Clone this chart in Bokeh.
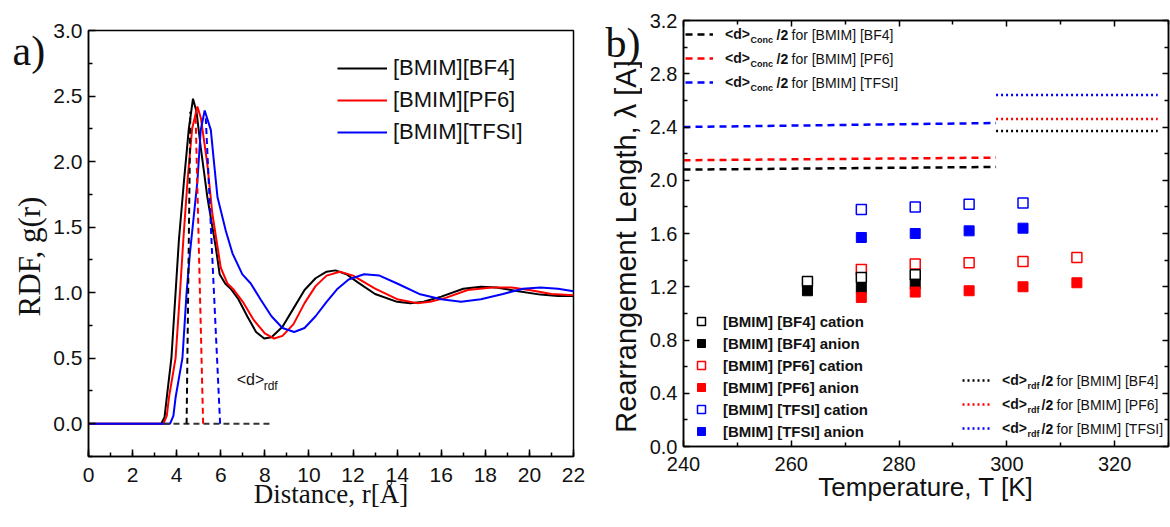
import math
from bokeh.plotting import figure
from bokeh.models import (FixedTicker, NumeralTickFormatter, Legend, LegendItem, Label,
                          LinearAxis, Range1d)
from bokeh.layouts import row
from bokeh.embed import file_html
from bokeh.resources import INLINE

# ---------------- data: panel a (RDF) ----------------
r_bf4 = [0, 3.3, 3.45, 3.55, 3.76, 3.95, 4.1, 4.33, 4.55, 4.74, 4.9, 5.09, 5.39, 5.77, 5.95, 6.2, 6.45,
         6.8, 7.2, 7.6, 7.97, 8.3, 8.8, 9.3, 9.8, 10.3, 10.8, 11.2, 11.7, 12.2, 13.0, 14.0, 14.6, 15.2,
         16.0, 17.0, 17.8, 18.5, 19.5, 20.5, 21.3, 22]
g_bf4 = [0, 0, 0.05, 0.2, 0.5, 1.0, 1.4, 1.85, 2.25, 2.48, 2.38, 2.11, 1.73, 1.35, 1.14, 1.07, 1.03,
         0.95, 0.82, 0.7, 0.65, 0.66, 0.74, 0.88, 1.02, 1.11, 1.16, 1.17, 1.14, 1.08, 0.99, 0.93, 0.92, 0.93,
         0.97, 1.03, 1.045, 1.04, 1.01, 0.985, 0.975, 0.975]
r_pf6 = [0, 3.4, 3.55, 3.65, 3.95, 4.15, 4.3, 4.49, 4.7, 4.94, 5.1, 5.39, 5.62, 6.0, 6.3, 6.6, 7.0, 7.5,
         8.0, 8.42, 8.8, 9.3, 9.8, 10.3, 10.8, 11.4, 12.0, 13.0, 14.0, 14.9, 15.5, 16.2, 17.2, 18.3, 19.2,
         20.0, 21.0, 22]
g_pf6 = [0, 0, 0.06, 0.2, 0.5, 1.0, 1.4, 1.85, 2.25, 2.42, 2.33, 1.98, 1.6, 1.19, 1.07, 1.02, 0.93, 0.79,
         0.69, 0.65, 0.67, 0.76, 0.92, 1.05, 1.13, 1.16, 1.13, 1.03, 0.95, 0.92, 0.93, 0.96, 1.02, 1.04, 1.04,
         1.02, 0.99, 0.98]
r_tfsi = [0, 3.7, 3.85, 3.95, 4.26, 4.45, 4.6, 4.94, 5.09, 5.27, 5.55, 5.7, 5.85, 6.23, 6.53, 6.98, 7.36,
          7.8, 8.3, 8.8, 9.33, 9.8, 10.3, 10.8, 11.3, 11.8, 12.5, 13.2, 14.0, 15.0, 16.0, 16.9, 17.8, 18.8,
          19.7, 20.5, 21.3, 22]
g_tfsi = [0, 0, 0.06, 0.2, 0.5, 1.0, 1.3, 1.85, 2.24, 2.39, 2.24, 1.98, 1.73, 1.47, 1.30, 1.14, 1.07,
          0.95, 0.82, 0.73, 0.70, 0.73, 0.82, 0.93, 1.03, 1.1, 1.14, 1.13, 1.07, 0.99, 0.95, 0.93, 0.95, 0.99,
          1.03, 1.04, 1.03, 1.01]
rdf_names = ["[BMIM][BF4]", "[BMIM][PF6]", "[BMIM][TFSI]"]
# <d>_rdf marker segments (base on r axis, top near the peak)
d_rdf_base = [4.45, 5.2, 5.97]
d_rdf_top_x = [4.62, 4.86, 5.32]
d_rdf_top_y = [2.38, 2.34, 2.33]
baseline_x = [3.4, 8.3]
baseline_y = [0.0, 0.0]
d_rdf_label_pos = (6.72, 0.34)

# ---------------- data: panel b (rearrangement length) ----------------
T_bf4 = [263, 273, 283]
bf4_cat = [1.24, 1.27, 1.29]
bf4_an = [1.17, 1.19, 1.22]
T_pf6 = [273, 283, 293, 303, 313]
pf6_cat = [1.33, 1.37, 1.38, 1.39, 1.42]
pf6_an = [1.12, 1.16, 1.17, 1.20, 1.23]
T_tfsi = [273, 283, 293, 303]
tfsi_cat = [1.78, 1.80, 1.82, 1.83]
tfsi_an = [1.57, 1.60, 1.62, 1.64]
T_conc = [240, 298]
conc_bf4 = [2.08, 2.10]
conc_pf6 = [2.15, 2.17]
conc_tfsi = [2.40, 2.43]
T_rdf = [298, 328]
rdfh_bf4 = [2.37, 2.37]
rdfh_pf6 = [2.46, 2.46]
rdfh_tfsi = [2.64, 2.64]
ions = ["[BMIM] [BF4]", "[BMIM] [PF6]", "[BMIM] [TFSI]"]

BLACK, RED, BLUE = "#000000", "#ff0000", "#0000ff"
SANS, SERIF = "Liberation Sans", "Liberation Serif"
TXT = "#111111"
H = 527
TOP, BOTTOM = 30, 71   # shared (aligned) borders of all pieces in the row


def style_axis(ax, size, tick_in=7, minor_in=4, standoff=8):
    ax.axis_line_width = 1.5
    ax.axis_line_color = "black"
    ax.major_tick_in = tick_in
    ax.major_tick_out = 0
    ax.minor_tick_in = minor_in
    ax.minor_tick_out = 0
    ax.major_tick_line_width = 1.5
    ax.minor_tick_line_width = 1.5
    ax.major_label_text_font = SANS
    ax.major_label_text_font_size = size
    ax.major_label_text_color = TXT
    ax.major_label_standoff = standoff
    ax.axis_label_text_font_style = "normal"
    ax.axis_label_text_color = TXT


def strip(width, shift):
    s = figure(width=width, height=H, x_range=Range1d(0, 1), y_range=Range1d(0, 1),
               output_backend="svg", toolbar_location=None, x_axis_type=None, y_axis_type=None,
               min_border_left=0, min_border_right=0, min_border_top=TOP, min_border_bottom=BOTTOM,
               margin=(shift, 0, 0, 0))
    s.grid.visible = False
    s.outline_line_color = None
    return s


# =================== strip with "a)" and the RDF axis title ===================
ta = strip(48, -20)          # frame spans page y 10..436
ta.add_layout(Label(x=12, y=386, x_units="screen", y_units="screen", text="a)", text_font=SERIF,
                    text_font_size="42px", text_baseline="alphabetic", text_color=TXT))
ta.add_layout(Label(x=29, y=180, x_units="screen", y_units="screen", text="RDF, g(r)", text_font=SERIF,
                    text_font_size="31px", text_align="center", text_baseline="middle",
                    angle=math.pi / 2, text_color=TXT))

# =================== panel a ===================
pa = figure(width=542, height=H, x_range=Range1d(0, 22), y_range=Range1d(-0.25, 3.0),
            output_backend="svg", toolbar_location=None,
            min_border_left=40, min_border_right=17, min_border_top=TOP, min_border_bottom=BOTTOM)
pa.grid.visible = False
pa.outline_line_color = "black"
pa.outline_line_width = 1.5

pa.xaxis.ticker = FixedTicker(ticks=list(range(0, 23, 2)), minor_ticks=list(range(0, 23)))
pa.yaxis.ticker = FixedTicker(ticks=[0.0, 0.5, 1.0, 1.5, 2.0, 2.5, 3.0],
                              minor_ticks=[-0.25, 0.25, 0.75, 1.25, 1.75, 2.25, 2.75])
pa.yaxis.formatter = NumeralTickFormatter(format="0.0")
style_axis(pa.xaxis[0], "21px", standoff=11)
style_axis(pa.yaxis[0], "21px", standoff=6)
pa.xaxis.axis_label = "Distance, r[Å]"
pa.xaxis.axis_label_text_font = SERIF
pa.xaxis.axis_label_text_font_size = "27px"
pa.xaxis.axis_label_standoff = -6

ra = pa.line(r_bf4, g_bf4, line_color=BLACK, line_width=2)
rb = pa.line(r_pf6, g_pf6, line_color=RED, line_width=2)
rc = pa.line(r_tfsi, g_tfsi, line_color=BLUE, line_width=2)
pa.line(baseline_x, baseline_y, line_color="#333333", line_width=2, line_dash="6 4")
pa.segment(x0=d_rdf_base, y0=[0, 0, 0], x1=d_rdf_top_x, y1=d_rdf_top_y,
           line_color=[BLACK, RED, BLUE], line_width=2, line_dash="6 4")

leg_a = Legend(items=[LegendItem(label=n, renderers=[r]) for n, r in zip(rdf_names, [ra, rb, rc])],
               location=(249, 308), padding=0, margin=0, spacing=0,
               glyph_width=50, glyph_height=32, label_height=32, label_standoff=6,
               label_text_font=SANS, label_text_font_size="22px", label_text_color=TXT,
               border_line_alpha=0, background_fill_alpha=0)
pa.add_layout(leg_a, "center")

pa.add_layout(Label(x=d_rdf_label_pos[0], y=d_rdf_label_pos[1], text="<d>", text_font=SANS,
                    text_font_size="16px", text_baseline="middle", text_color=TXT))
pa.add_layout(Label(x=d_rdf_label_pos[0], y=d_rdf_label_pos[1], x_offset=27, y_offset=-7, text="rdf",
                    text_font=SANS, text_font_size="12px", text_baseline="middle", text_color=TXT))

# =================== strip with "b)" and the lambda axis title ===================
tb = strip(52, -19)          # frame spans page y 11..437
tb.add_layout(Label(x=15, y=395, x_units="screen", y_units="screen", text="b)", text_font=SERIF,
                    text_font_size="42px", text_baseline="alphabetic", text_color=TXT))
tb.add_layout(Label(x=35, y=191, x_units="screen", y_units="screen", text="Rearrangement Length, λ [A]",
                    text_font=SANS, text_font_size="29px", text_align="center",
                    text_baseline="middle", angle=math.pi / 2, text_color=TXT))

# =================== panel b ===================
pb = figure(width=528, height=H, x_range=Range1d(240, 330), y_range=Range1d(0, 3.2),
            output_backend="svg", toolbar_location=None,
            min_border_left=41, min_border_right=2, min_border_top=TOP, min_border_bottom=BOTTOM,
            margin=(-10, 0, 0, 0))   # frame spans page y 20..446
pb.grid.visible = False
pb.outline_line_color = "black"
pb.outline_line_width = 1.5

xt = dict(ticks=[240, 260, 280, 300, 320], minor_ticks=[250, 270, 290, 310, 330])
yt = dict(ticks=[0.0, 0.4, 0.8, 1.2, 1.6, 2.0, 2.4, 2.8, 3.2],
          minor_ticks=[0.2, 0.6, 1.0, 1.4, 1.8, 2.2, 2.6, 3.0])
pb.xaxis.ticker = FixedTicker(**xt)
pb.yaxis.ticker = FixedTicker(**yt)
pb.yaxis.formatter = NumeralTickFormatter(format="0.0")
style_axis(pb.xaxis[0], "20px", tick_in=6, minor_in=4, standoff=10)
style_axis(pb.yaxis[0], "20px", tick_in=6, minor_in=4, standoff=6)
pb.xaxis.axis_label = "Temperature, T [K]"
pb.xaxis.axis_label_text_font = SANS
pb.xaxis.axis_label_text_font_size = "26px"
pb.xaxis.axis_label_standoff = -2

top_ax = LinearAxis(ticker=FixedTicker(**xt))
right_ax = LinearAxis(ticker=FixedTicker(**yt))
for ax in (top_ax, right_ax):
    style_axis(ax, "0px", tick_in=6, minor_in=4, standoff=0)
    ax.major_label_text_color = None
pb.add_layout(top_ax, "above")
pb.add_layout(right_ax, "right")

# horizontal reference lines
c1 = pb.line(T_conc, conc_bf4, line_color=BLACK, line_width=2.5, line_dash="7 5")
c2 = pb.line(T_conc, conc_pf6, line_color=RED, line_width=2.5, line_dash="7 5")
c3 = pb.line(T_conc, conc_tfsi, line_color=BLUE, line_width=2.5, line_dash="7 5")
d1 = pb.line(T_rdf, rdfh_bf4, line_color=BLACK, line_width=2.5, line_dash="2 3")
d2 = pb.line(T_rdf, rdfh_pf6, line_color=RED, line_width=2.5, line_dash="2 3")
d3 = pb.line(T_rdf, rdfh_tfsi, line_color=BLUE, line_width=2.5, line_dash="2 3")

# markers
MS = 10
m_pc = pb.scatter(T_pf6, pf6_cat, marker="square", size=MS, fill_color="white", line_color=RED, line_width=1.5)
m_bc = pb.scatter(T_bf4, bf4_cat, marker="square", size=MS, fill_color="white", line_color=BLACK, line_width=1.5)
m_ba = pb.scatter(T_bf4, bf4_an, marker="square", size=MS, fill_color=BLACK, line_color=BLACK)
m_pa = pb.scatter(T_pf6, pf6_an, marker="square", size=MS, fill_color=RED, line_color=RED)
m_tc = pb.scatter(T_tfsi, tfsi_cat, marker="square", size=MS, fill_color="white", line_color=BLUE, line_width=1.5)
m_ta = pb.scatter(T_tfsi, tfsi_an, marker="square", size=MS, fill_color=BLUE, line_color=BLUE)

marker_items = [
    LegendItem(label=f"{ions[0]} cation", renderers=[m_bc]),
    LegendItem(label=f"{ions[0]} anion", renderers=[m_ba]),
    LegendItem(label=f"{ions[1]} cation", renderers=[m_pc]),
    LegendItem(label=f"{ions[1]} anion", renderers=[m_pa]),
    LegendItem(label=f"{ions[2]} cation", renderers=[m_tc]),
    LegendItem(label=f"{ions[2]} anion", renderers=[m_ta]),
]
common = dict(padding=0, margin=0, spacing=0, border_line_alpha=0, background_fill_alpha=0,
              label_text_font=SANS, label_text_color=TXT)
leg_m = Legend(items=marker_items, location=(8, 4), glyph_width=20, glyph_height=22,
               label_height=22, label_standoff=12, label_text_font_size="15px",
               label_text_font_style="bold", **common)
pb.add_layout(leg_m, "center")


def piece_legend(renderers, sub, loc, row_h, offsets):
    leg = Legend(items=[LegendItem(label="<d>", renderers=[r]) for r in renderers],
                 location=loc, glyph_width=28, glyph_height=row_h, label_height=row_h,
                 label_standoff=12, label_text_font_size="14px", label_text_font_style="bold", **common)
    pb.add_layout(leg, "center")
    x0 = loc[0] + 28 + 12
    n = len(renderers)
    for i, name in enumerate(ions):
        yc = loc[1] + n * row_h - (i + 0.5) * row_h
        pb.add_layout(Label(x=x0 + offsets[0], y=yc - 5, x_units="screen", y_units="screen", text=sub,
                            text_font=SANS, text_font_size="9px", text_font_style="bold",
                            text_baseline="middle", text_color=TXT))
        pb.add_layout(Label(x=x0 + offsets[1], y=yc, x_units="screen", y_units="screen", text="/2",
                            text_font=SANS, text_font_size="14px", text_font_style="bold",
                            text_baseline="middle", text_color=TXT))
        pb.add_layout(Label(x=x0 + offsets[2], y=yc, x_units="screen", y_units="screen",
                            text=f"for {name}", text_font=SANS, text_font_size="14px",
                            text_baseline="middle", text_color=TXT))


piece_legend([c1, c2, c3], "Conc", (2, 352), 24, (25, 51, 66))
piece_legend([d1, d2, d3], "rdf", (279, 6), 24, (25, 39, 54))

p = row(ta, pa, tb, pb)
open("out.html", "w").write(file_html(p, INLINE))
